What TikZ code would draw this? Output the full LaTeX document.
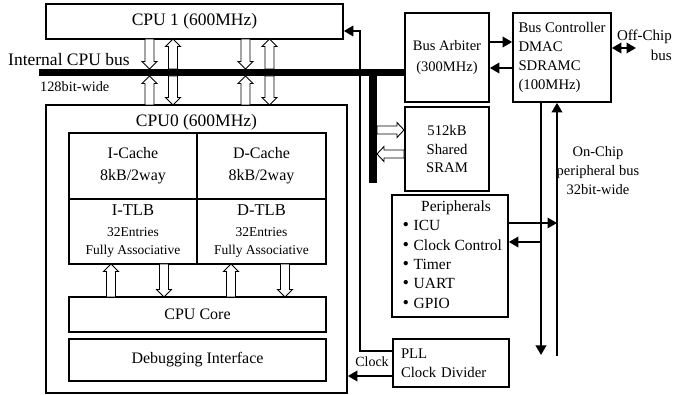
\documentclass[tikz,border=0pt]{standalone}
\usepackage{fontspec}
\setmainfont{Liberation Serif}
\newfontfamily\cjk{Noto Sans CJK JP}
\usetikzlibrary{arrows.meta}
\newcommand\fsz[2]{\fontsize{#1}{#2}\selectfont}
% hollow block arrows: x, tail y, tip y
\newcommand\hdown[3]{\draw[hollow] ({#1-4.5},#2) -- ({#1-4.5},{#3-7.5}) -- ({#1-7.5},{#3-7.5}) -- (#1,#3) -- ({#1+7.5},{#3-7.5}) -- ({#1+4.5},{#3-7.5}) -- ({#1+4.5},#2) -- cycle;}
\newcommand\hup[3]{\draw[hollow] ({#1-4.5},#2) -- ({#1-4.5},{#3+7.5}) -- ({#1-7.5},{#3+7.5}) -- (#1,#3) -- ({#1+7.5},{#3+7.5}) -- ({#1+4.5},{#3+7.5}) -- ({#1+4.5},#2) -- cycle;}
% y, tail x, tip x
\newcommand\hright[3]{\draw[hollow] (#2,{#1-4}) -- ({#3-7},{#1-4}) -- ({#3-7},{#1-7.5}) -- (#3,#1) -- ({#3-7},{#1+7.5}) -- ({#3-7},{#1+4}) -- (#2,{#1+4}) -- cycle;}
\newcommand\hleft[3]{\draw[hollow] (#2,{#1-4}) -- ({#3+7},{#1-4}) -- ({#3+7},{#1-7.5}) -- (#3,#1) -- ({#3+7},{#1+7.5}) -- ({#3+7},{#1+4}) -- (#2,{#1+4}) -- cycle;}
\newcommand\itemdot{{\cjk\bfseries ・}}
\begin{document}
\begin{tikzpicture}[x=1pt,y=-1pt,
  box/.style={draw,line width=1.7pt,inner sep=2pt},
  cell/.style={draw,line width=1.3pt,inner sep=2pt},
  conn/.style={line width=1.9pt},
  >={Triangle[length=9.5pt,width=10.5pt]},
  hollow/.style={draw,line width=0.9pt,fill=white},
  lbl/.style={inner sep=0pt}]
\useasboundingbox (0,0) rectangle (686,395);

% CPU1 and CPU0
\node[box,minimum width=297pt,minimum height=35pt,font=\fsz{17.5}{20}] (cpu1) at (194.5,21.5) {CPU 1 (600MHz)};
\node[box,minimum width=301pt,minimum height=288pt] (cpu0) at (196.5,249) {};
\node[lbl,font=\fsz{17.5}{20}] (cpu0t) at (196.5,122) {CPU0 (600MHz)};

\node[cell,minimum width=128pt,minimum height=66pt,align=center,font=\fsz{16}{22}] (icache) at (133,166) {I-Cache\\8kB/2way};
\node[cell,minimum width=129pt,minimum height=66pt,align=center,font=\fsz{16}{22}] (dcache) at (261.5,166) {D-Cache\\8kB/2way};
\node[cell,minimum width=128pt,minimum height=65pt,align=center,font=\fsz{13.5}{18}] (itlb) at (133,231.5) {{\fsz{16.5}{18}I-TLB}\\[3pt]32Entries\\Fully Associative};
\node[cell,minimum width=129pt,minimum height=65pt,align=center,font=\fsz{13.5}{18}] (dtlb) at (261.5,231.5) {{\fsz{16.5}{18}D-TLB}\\[3pt]32Entries\\Fully Associative};
\node[cell,minimum width=257pt,minimum height=35pt,font=\fsz{16}{20}] (core) at (197.5,314.5) {CPU Core};
\node[cell,minimum width=257pt,minimum height=42pt,font=\fsz{16}{20}] (debug) at (197.5,360) {Debugging Interface};

% right side blocks
\node[box,minimum width=84pt,minimum height=89pt,align=center,font=\fsz{14.5}{21}] (arb) at (447,57.5) {Bus Arbiter\\(300MHz)};
\node[box,minimum width=84pt,minimum height=84pt,align=center,font=\fsz{14.7}{18.5}] (sram) at (447,149) {512kB\\Shared\\SRAM};
\node[box,minimum width=98pt,minimum height=89pt,align=left,font=\fsz{14.7}{18.7}] (ctrl) at (562,57.5) {Bus Controller\\DMAC\\SDRAMC\\(100MHz)};
\node[box,minimum width=116pt,minimum height=122pt,font=\fsz{15.5}{19.3}] (periph) at (450,256) {\begin{tabular}{@{}l@{}}\multicolumn{1}{@{}c@{}}{\hspace{12pt}Peripherals}\\\itemdot ICU\\\itemdot Clock Control\\\itemdot Timer\\\itemdot UART\\\itemdot GPIO\end{tabular}};
\node[box,minimum width=116pt,minimum height=48pt,text width=100pt,inner xsep=8pt,align=left,font=\fsz{14.75}{19}] (pll) at (451,363) {PLL\\Clock Divider};

% labels
\node[lbl,anchor=west,font=\fsz{17.5}{20}] (buslbl) at (8,60) {Internal CPU bus};
\node[lbl,anchor=west,font=\fsz{14.3}{18}] (widelbl) at (40,87) {128bit-wide};
\node[lbl,font=\fsz{14}{18}] (clklbl) at (372,362) {Clock};
\node[lbl,anchor=east,align=right,font=\fsz{15}{20}] (offlbl) at (672,45) {Off-Chip\\bus};
\node[lbl,align=center,font=\fsz{14.5}{19}] (onlbl) at (598,171) {On-Chip\\peripheral bus\\32bit-wide};

% clock / control wiring
\coordinate (ck) at (360,31);
\draw[conn,->] (pll.west |- 0,351) -| (ck) -- (cpu1.east |- ck);
\draw[conn,->] (pll.west |- 0,376) -- (cpu0.east |- 0,376);

% internal CPU bus
\coordinate (busL) at (39,72.5);
\coordinate (busT) at (373,183);
\draw[line width=7pt] (busL) -- (busL -| arb.west);
\draw[line width=8pt] (busT |- 0,69) -- (busT);

% hollow arrows CPU1 <-> bus <-> CPU0
\hdown{149.5}{39}{69}
\hup{173}{69}{39}
\hdown{245.5}{39}{69}
\hup{269.5}{69}{39}
\hup{149.5}{105}{76}
\hdown{173}{76}{105}
\hup{245.5}{105}{76}
\hdown{269.5}{76}{105}
% TLB <-> CPU core
\hup{111}{297}{264}
\hdown{164}{264}{297}
\hup{231}{297}{264}
\hdown{285}{264}{297}
% bus <-> SRAM
\hright{130}{377}{404}
\hleft{154}{404}{377}

% arbiter <-> controller
\draw[conn,->] (arb.east |- 0,42) -- (ctrl.west |- 0,42);
\draw[conn,->] (ctrl.west |- 0,68) -- (arb.east |- 0,68);
\coordinate (offc) at (636,48);
\draw[conn,<->] (ctrl.east |- offc) -- (offc);

% on-chip peripheral bus
\coordinate (obA) at (541,355);
\coordinate (obB) at (557,356);
\draw[conn,->] (ctrl.south -| obA) -- (obA);
\draw[conn,->] (obB) -- (ctrl.south -| obB);
\draw[conn,->] (periph.east |- 0,223) -- (obB |- 0,223);
\draw[conn,->] (obA |- 0,242) -- (periph.east |- 0,242);
\end{tikzpicture}
\end{document}
